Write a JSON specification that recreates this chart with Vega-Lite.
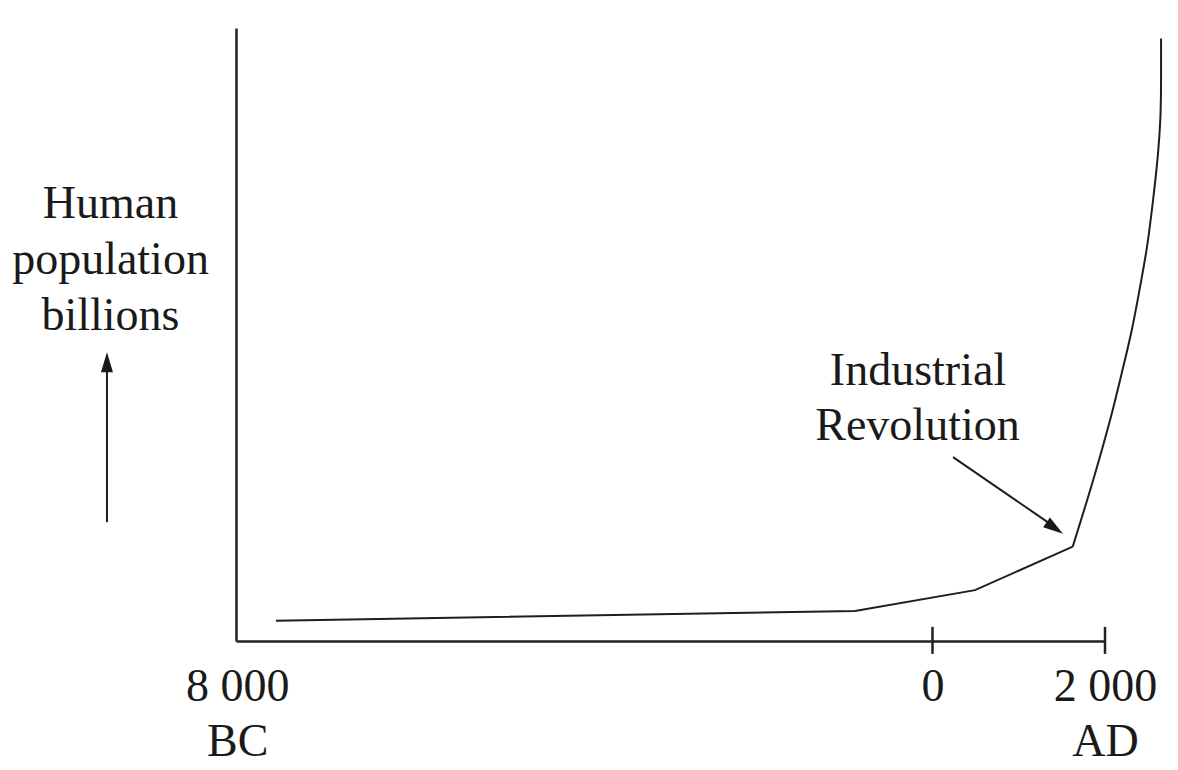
{
  "$schema": "https://vega.github.io/schema/vega-lite/v6.json",
  "description": "Human population growth since 8000 BC (schematic)",
  "autosize": {"type": "none"},
  "padding": {"left": 236, "top": 28, "right": 73, "bottom": 129},
  "width": 869,
  "height": 613,
  "background": "white",
  "config": {"view": {"stroke": null}},
  "encoding": {
    "x": {
      "field": "x", "type": "quantitative",
      "scale": {"domain": [-8075, 2000], "nice": false, "zero": false},
      "axis": {
        "values": [-8060, 0, 2000],
        "labelExpr": "datum.value < -5000 ? ['8 000', 'BC'] : datum.value == 0 ? '0' : ['2 000', 'AD']",
        "ticks": false, "tickSize": 0, "grid": false, "title": null,
        "domainColor": "#222222", "domainWidth": 2.5,
        "labelFont": "Liberation Serif", "labelFontSize": 46, "labelColor": "#1a1a1a",
        "labelBaseline": "alphabetic", "labelPadding": 59, "labelLineHeight": 55,
        "labelAngle": 0, "labelOverlap": false, "labelFlush": false, "labelBound": false
      }
    },
    "y": {
      "field": "y", "type": "quantitative",
      "scale": {"domain": [0, 10], "nice": false, "zero": false},
      "axis": {
        "labels": false, "ticks": false, "grid": false,
        "domainColor": "#222222", "domainWidth": 2.5,
        "title": ["Human", "population", "billions"],
        "titleAngle": 0, "titleX": -126, "titleY": 189,
        "titleAlign": "center", "titleBaseline": "alphabetic", "titleLineHeight": 56,
        "titleFont": "Liberation Serif", "titleFontSize": 46, "titleFontWeight": "normal",
        "titleColor": "#1a1a1a"
      }
    }
  },
  "layer": [
    {
      "data": {"values": [
        {"x": -7612, "y": 0.33},
        {"x": -899, "y": 0.49},
        {"x": 493, "y": 0.83},
        {"x": 1626, "y": 1.54}
      ]},
      "mark": {"type": "line", "color": "#1e1e1e", "strokeWidth": 2}
    },
    {
      "data": {"values": [
        {"x": 1626, "y": 1.54},
        {"x": 1864, "y": 2.63},
        {"x": 2058, "y": 3.60},
        {"x": 2194, "y": 4.37},
        {"x": 2310, "y": 5.07},
        {"x": 2412, "y": 5.82},
        {"x": 2487, "y": 6.43},
        {"x": 2557, "y": 7.19},
        {"x": 2615, "y": 7.96},
        {"x": 2641, "y": 8.50},
        {"x": 2649, "y": 8.94},
        {"x": 2650, "y": 9.40},
        {"x": 2650, "y": 9.83}
      ]},
      "mark": {"type": "line", "color": "#1e1e1e", "strokeWidth": 2, "interpolate": "catmull-rom"},
      "encoding": {"order": {"field": "y", "type": "quantitative"}}
    },
    {
      "data": {"values": [
        {"x": 0, "y": -0.21, "y2": 0.23},
        {"x": 2000, "y": -0.21, "y2": 0.23}
      ]},
      "mark": {"type": "rule", "color": "#222222", "strokeWidth": 2.5},
      "encoding": {"y2": {"field": "y2"}}
    },
    {
      "data": {"values": [
        {"x": -9571, "y": 1.94, "x2": -9571, "y2": 4.45},
        {"x": 238, "y": 3.0, "x2": 1386, "y2": 1.89}
      ]},
      "mark": {"type": "rule", "color": "#1e1e1e", "strokeWidth": 2},
      "encoding": {"x2": {"field": "x2"}, "y2": {"field": "y2"}}
    },
    {
      "data": {"values": [
        {"x": -9571, "y": 4.71, "a": 0},
        {"x": 1513, "y": 1.75, "a": 124.6}
      ]},
      "mark": {"type": "point", "shape": "M0,0L0.6,2L-0.6,2Z", "size": 400, "filled": true, "color": "#1a1a1a", "opacity": 1, "strokeWidth": 0},
      "encoding": {"angle": {"field": "a", "type": "quantitative", "scale": null}}
    },
    {
      "data": {"values": [
        {"x": -168, "y": 4.18, "t": "Industrial"},
        {"x": -174, "y": 3.28, "t": "Revolution"}
      ]},
      "mark": {"type": "text", "font": "Liberation Serif", "fontSize": 46, "color": "#1a1a1a", "align": "center", "baseline": "alphabetic"},
      "encoding": {"text": {"field": "t"}}
    }
  ]
}
